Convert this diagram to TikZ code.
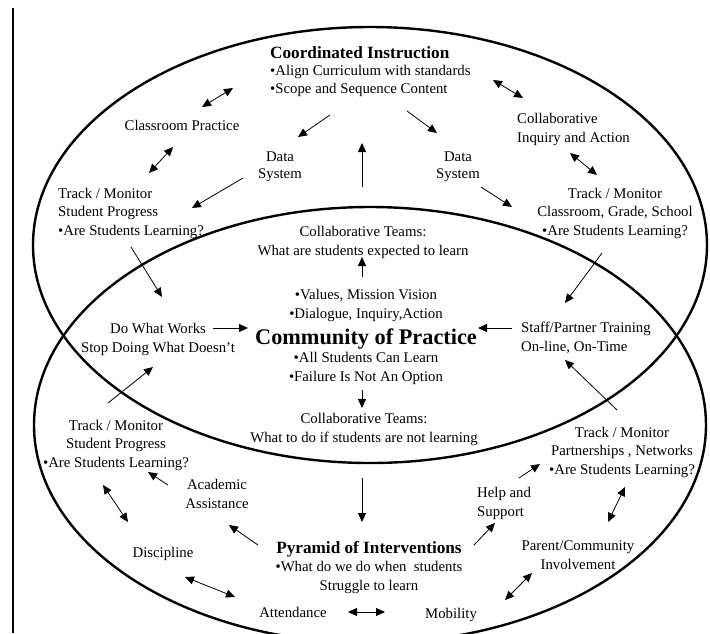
\documentclass[tikz,border=0pt]{standalone}
\usepackage{fontspec}
\setmainfont{Liberation Serif}
\usetikzlibrary{arrows.meta}
\begin{document}
\begin{tikzpicture}[x=1pt,y=-1pt,
  txt/.style={inner sep=0pt, font=\fontsize{14.8}{18.5}\selectfont},
  arr/.style={-{Triangle[length=9pt,width=8pt]}, line width=0.8pt},
  dbl/.style={{Triangle[length=9pt,width=8pt]}-{Triangle[length=9pt,width=8pt]}, line width=0.8pt},
  ring/.style={line width=2.4pt}]
\useasboundingbox (0,0) rectangle (710,633);
% frame line and ellipses
\coordinate (lt) at (13,8);
\coordinate (lb) at (13,633);
\draw[line width=1.6pt] (lt) -- (lb);
\begin{scope}
\clip (0,0) rectangle (710,633);
\draw[ring] (370,245) ellipse [x radius=337pt, y radius=218pt];
\draw[ring] (370,425) ellipse [x radius=336pt, y radius=218pt];
\end{scope}

% texts (anchor = baseline of the last line)
\node[txt, align=left, anchor=base west, font=\fontsize{14.8}{17.5}\selectfont] (coord) at (270,93)
  {{\bfseries\fontsize{17.2}{17.5}\selectfont Coordinated Instruction}\\•Align Curriculum with standards\\•Scope and Sequence Content};
\node[txt, anchor=base] (classroom) at (182,130) {Classroom Practice};
\node[txt, align=left, anchor=base west] (trackUL) at (58,235) {Track / Monitor\\Student Progress\\•Are Students Learning?};
\node[txt, align=center, anchor=base, font=\fontsize{14.8}{17}\selectfont] (dataL) at (280,178) {Data\\System};
\node[txt, align=center, anchor=base, font=\fontsize{14.8}{17}\selectfont] (dataR) at (458,178) {Data\\System};
\node[txt, align=left, anchor=base west] (collab) at (517,142) {Collaborative\\Inquiry and Action};
\node[txt, align=center, anchor=base] (trackUR) at (615,235) {Track / Monitor\\Classroom, Grade, School\\•Are Students Learning?};
\node[txt, align=center, anchor=base] (ctTop) at (363,255) {Collaborative Teams:\\What are students expected to learn};
\node[txt, align=center, anchor=base] (values) at (366,318) {•Values, Mission Vision\\•Dialogue, Inquiry,Action};
\node[inner sep=0pt, anchor=base, font=\bfseries\fontsize{22.3}{26}\selectfont] (cop) at (366,344) {Community of Practice};
\node[txt, align=center, anchor=base] (allstud) at (366,381) {•All Students Can Learn\\•Failure Is Not An Option};
\node[txt, align=center, anchor=base] (ctBot) at (364,442) {Collaborative Teams:\\What to do if students are not learning};
\node[txt, align=center, anchor=base] (doWhat) at (158,352) {Do What Works\\Stop Doing What Doesn’t};
\node[txt, align=left, anchor=base west] (staff) at (521,351) {Staff/Partner Training\\On-line, On-Time};
\node[txt, align=center, anchor=base] (trackLL) at (116,467) {Track / Monitor\\Student Progress\\•Are Students Learning?};
\node[txt, align=center, anchor=base] (trackLR) at (622,474) {Track / Monitor\\Partnerships , Networks\\•Are Students Learning?};
\node[txt, align=center, anchor=base] (academic) at (217,508) {Academic\\Assistance};
\node[txt, align=left, anchor=base west] (help) at (477,516) {Help and\\Support};
\node[txt, anchor=base] (discipline) at (163,557) {Discipline};
\node[txt, align=center, anchor=base] (parent) at (578,569) {Parent/Community\\Involvement};
\node[txt, align=center, anchor=base] (pyramid) at (369,590)
  {{\bfseries\fontsize{17.2}{18.5}\selectfont Pyramid of Interventions}\\•What do we do when\ \ students\\Struggle to learn};
\node[txt, anchor=base] (attendance) at (293,617) {Attendance};
\node[txt, anchor=base] (mobility) at (451,618) {Mobility};

% connector end points
\path (202,107) coordinate (a1) (233,88) coordinate (b1)
      (173,147) coordinate (a2) (149,173) coordinate (b2)
      (330,115) coordinate (a3) (298,137) coordinate (b3)
      (243,178) coordinate (a4) (192,208) coordinate (b4)
      (131,247) coordinate (a5) (162,297) coordinate (b5)
      (493,80)  coordinate (a6) (523,98)  coordinate (b6)
      (570,153) coordinate (a7) (597,175) coordinate (b7)
      (407,111) coordinate (a8) (437,133) coordinate (b8)
      (481,187) coordinate (a9) (512,207) coordinate (b9)
      (362,187) coordinate (a10) (362,143) coordinate (b10)
      (362,277) coordinate (a11) (362,257) coordinate (b11)
      (602,253) coordinate (a12) (565,303) coordinate (b12)
      (213,328) coordinate (a13) (248,328) coordinate (b13)
      (362,390) coordinate (a14) (362,408) coordinate (b14)
      (108,403) coordinate (a15) (153,367) coordinate (b15)
      (168,485) coordinate (a16) (148,472) coordinate (b16)
      (103,485) coordinate (a17) (128,522) coordinate (b17)
      (258,545) coordinate (a18) (229,525) coordinate (b18)
      (185,577) coordinate (a19) (235,597) coordinate (b19)
      (348,612) coordinate (a20) (385,612) coordinate (b20)
      (512,328) coordinate (a21) (478,328) coordinate (b21)
      (617,410) coordinate (a22) (565,360) coordinate (b22)
      (519,478) coordinate (a23) (540,464) coordinate (b23)
      (474,545) coordinate (a24) (495,523) coordinate (b24)
      (625,487) coordinate (a25) (608,522) coordinate (b25)
      (532,573) coordinate (a26) (505,600) coordinate (b26)
      (362,478) coordinate (a27) (362,522) coordinate (b27);

\draw[dbl] (a1) -- (b1);
\draw[dbl] (a2) -- (b2);
\draw[arr] (a3) -- (b3);
\draw[arr] (a4) -- (b4);
\draw[arr] (a5) -- (b5);
\draw[dbl] (a6) -- (b6);
\draw[dbl] (a7) -- (b7);
\draw[arr] (a8) -- (b8);
\draw[arr] (a9) -- (b9);
\draw[arr] (a10) -- (b10);
\draw[arr] (a11) -- (b11);
\draw[arr] (a12) -- (b12);
\draw[arr] (a13) -- (b13);
\draw[arr] (a14) -- (b14);
\draw[arr] (a15) -- (b15);
\draw[arr] (a16) -- (b16);
\draw[dbl] (a17) -- (b17);
\draw[arr] (a18) -- (b18);
\draw[dbl] (a19) -- (b19);
\draw[dbl] (a20) -- (b20);
\draw[arr] (a21) -- (b21);
\draw[arr] (a22) -- (b22);
\draw[arr] (a23) -- (b23);
\draw[arr] (a24) -- (b24);
\draw[dbl] (a25) -- (b25);
\draw[dbl] (a26) -- (b26);
\draw[arr] (a27) -- (b27);
\end{tikzpicture}
\end{document}
